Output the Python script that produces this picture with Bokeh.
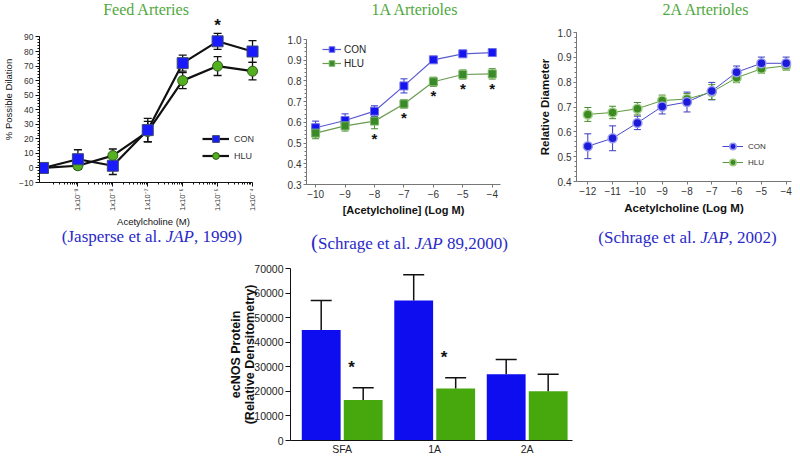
import numpy as np
from bokeh.plotting import figure
from bokeh.models import (ColumnDataSource, Whisker, TeeHead, Legend, LegendItem,
                          FixedTicker, Range1d, Spacer, NumeralTickFormatter, Div)
from bokeh.layouts import row, column
from bokeh.core.properties import value
from bokeh.embed import file_html
from bokeh.resources import INLINE

# ---------------- data ----------------
# Feed arteries (% possible dilation)
fa_x = [-10, -9, -8, -7, -6, -5, -4]
fa_con = [0, 6, 1.5, 26, 72, 87, 80]
fa_con_err = [0, 6.5, 6, 8, 5.5, 5.5, 7.5]
fa_hlu = [0, 1.5, 8.5, 25, 60, 70, 66.5]
fa_hlu_err = [0, 2.5, 4.5, 7, 5.5, 6.5, 6]
fa_ticks = [-9, -8, -7, -6, -5, -4]
fa_tick_text = ["1x10\u207b\u2079", "1x10\u207b\u2078", "1x10\u207b\u2077",
                "1x10\u207b\u2076", "1x10\u207b\u2075", "1x10\u207b\u2074"]
fa_sig = [-5]

# 1A arterioles (relative diameter)
a1_x = [-10, -9, -8, -7, -6, -5, -4]
a1_con = [0.574, 0.609, 0.654, 0.776, 0.902, 0.931, 0.937]
a1_con_err = [0.032, 0.032, 0.026, 0.034, 0.008, 0.008, 0.006]
a1_hlu = [0.548, 0.583, 0.606, 0.689, 0.796, 0.831, 0.834]
a1_hlu_err = [0.027, 0.025, 0.037, 0.020, 0.022, 0.022, 0.025]
a1_sig = [-8, -7, -6, -5, -4]

# 2A arterioles (relative diameter)
a2_x = [-12, -11, -10, -9, -8, -7, -6, -5, -4]
a2_con = [0.542, 0.574, 0.636, 0.702, 0.720, 0.764, 0.840, 0.876, 0.876]
a2_con_err = [0.050, 0.050, 0.027, 0.030, 0.040, 0.035, 0.025, 0.025, 0.025]
a2_hlu = [0.670, 0.678, 0.693, 0.726, 0.732, 0.760, 0.818, 0.854, 0.866]
a2_hlu_err = [0.028, 0.025, 0.025, 0.022, 0.022, 0.030, 0.020, 0.018, 0.018]

# ecNOS protein
bar_cats = ["SFA", "1A", "2A"]
bar_con = [45000, 57000, 27000]
bar_con_err = [12000, 10500, 6000]
bar_hlu = [16500, 21200, 20000]
bar_hlu_err = [5000, 4300, 7000]
bar_sig = ["SFA", "1A"]

# ---------------- styles ----------------
TITLE_GREEN = "#4fa83d"
CITE_BLUE = "#2a2ac8"
SANS = "Liberation Sans"
SERIF = "Liberation Serif"


def base_fig(w, h, xr, yr, l, r, t, b):
    p = figure(width=w, height=h, x_range=xr, y_range=yr, output_backend="svg",
               toolbar_location=None, min_border_left=l, min_border_right=r,
               min_border_top=t, min_border_bottom=b)
    p.grid.visible = False
    p.outline_line_color = None
    return p


def text_div(html, w, h, dx, size, color, lh=20):
    style = (f"position:relative;left:{dx}px;width:{w}px;text-align:center;"
             f"white-space:nowrap;font-family:'{SERIF}';font-size:{size}px;"
             f"line-height:{lh}px;color:{color};margin:0;padding:0")
    return Div(text=f'<div style="{style}">{html}</div>', width=w, height=h, margin=0)


def whiskers(p, xs, ys, errs, color, width, head):
    src = ColumnDataSource(dict(x=xs, lo=[a - e for a, e in zip(ys, errs)],
                                hi=[a + e for a, e in zip(ys, errs)]))
    w = Whisker(source=src, base="x", lower="lo", upper="hi", line_color=color,
                line_width=width,
                upper_head=TeeHead(size=head, line_color=color, line_width=width),
                lower_head=TeeHead(size=head, line_color=color, line_width=width))
    p.add_layout(w)


def style_axes(p, color, label_color, tick_size):
    for ax in (p.xaxis[0], p.yaxis[0]):
        ax.axis_line_color = color
        ax.major_tick_line_color = color
        ax.minor_tick_line_color = color
        ax.major_label_text_color = label_color
        ax.major_label_text_font = SANS
        ax.major_label_text_font_size = f"{tick_size}px"
        ax.axis_label_text_font = SANS
        ax.axis_label_text_color = "#111111"
        ax.major_tick_in = 0
        ax.minor_tick_in = 0


# ---------------- panel 1: feed arteries ----------------
x0, x1 = -10.1, -3.571
p1 = base_fig(270, 213, Range1d(x0, x1), Range1d(-10, 104.05), 37, 3, 0, 45)
style_axes(p1, "#111111", "#333333", 8.5)
p1.yaxis.ticker = FixedTicker(ticks=list(range(-10, 91, 10)),
                              minor_ticks=list(range(-10, 91, 2)))
p1.yaxis.bounds = (-10, 90)
p1.xaxis.bounds = (x0, -4)
minor_log = [d + float(np.log10(k)) for d in range(-10, -4) for k in range(2, 10)]
p1.xaxis.ticker = FixedTicker(ticks=fa_ticks, minor_ticks=minor_log)
p1.xaxis.major_label_overrides = {t: s for t, s in zip(fa_ticks, fa_tick_text)}
p1.xaxis.major_label_orientation = np.pi / 2
p1.xaxis.major_label_text_font_size = "7.5px"
for ax in (p1.xaxis[0], p1.yaxis[0]):
    ax.major_tick_out = 4
    ax.minor_tick_out = 2
    ax.major_label_standoff = 2
    ax.axis_label_standoff = 2
    ax.axis_label_text_font_size = "9.5px"
    ax.axis_label_text_font_style = "normal"
p1.yaxis.axis_label = "% Possible Dilation"
p1.xaxis.axis_label = "Acetylcholine (M)"

whiskers(p1, fa_x, fa_con, fa_con_err, "#111111", 1.3, 8)
whiskers(p1, fa_x, fa_hlu, fa_hlu_err, "#111111", 1.3, 8)
l1c = p1.line(fa_x, fa_con, line_color="#111111", line_width=2.2)
l1h = p1.line(fa_x, fa_hlu, line_color="#111111", line_width=2.2)
s1h = p1.scatter(fa_x, fa_hlu, marker="circle", size=10, fill_color="#55b020",
                 line_color="#2f5a1c", line_width=1)
s1c = p1.scatter(fa_x, fa_con, marker="square", size=11, fill_color="#1a1aff",
                 line_color="#3a4a70", line_width=1)
sy = [fa_con[fa_x.index(x)] + fa_con_err[fa_x.index(x)] + 5.5 for x in fa_sig]
p1.text(fa_sig, sy, text=value("*"), text_font=value(SANS), text_font_style="bold",
        text_font_size="17px", text_align="center", text_baseline="alphabetic",
        text_color="#111111")
leg1 = Legend(items=[LegendItem(label="CON", renderers=[l1c, s1c]),
                     LegendItem(label="HLU", renderers=[l1h, s1h])],
              location=(163, 18), border_line_color=None, background_fill_alpha=0,
              padding=0, margin=0, spacing=0, glyph_width=27, glyph_height=17,
              label_height=17, label_standoff=5, label_text_font=SANS,
              label_text_font_size="9px", label_text_color="#333333")
p1.add_layout(leg1)

# ---------------- panel 2: 1A arterioles ----------------
p2 = base_fig(265, 212, Range1d(-10.31, -3.72), Range1d(0.3, 1.0), 36, 35, 19, 48)
style_axes(p2, "#777777", "#333333", 10)
p2.xaxis.ticker = FixedTicker(ticks=a1_x)
p2.yaxis.ticker = FixedTicker(ticks=[round(v, 1) for v in np.arange(0.3, 1.01, 0.1)],
                              minor_ticks=[round(v, 2) for v in np.arange(0.3, 1.001, 0.02)])
p2.yaxis.formatter = NumeralTickFormatter(format="0.0")
for ax in (p2.xaxis[0], p2.yaxis[0]):
    ax.major_tick_out = 3
    ax.minor_tick_out = 2
    ax.major_label_standoff = 2
p2.xaxis.axis_label = "[Acetylcholine] (Log M)"
p2.xaxis.axis_label_text_font_size = "11px"
p2.xaxis.axis_label_text_font_style = "bold"
p2.xaxis.axis_label_standoff = 3

whiskers(p2, a1_x, a1_con, a1_con_err, "#3434d0", 1, 7)
whiskers(p2, a1_x, a1_hlu, a1_hlu_err, "#4a8a30", 1, 7)
l2c = p2.line(a1_x, a1_con, line_color="#5a5ad2", line_width=1.2)
l2h = p2.line(a1_x, a1_hlu, line_color="#6a9a50", line_width=1.2)
s2c = p2.scatter(a1_x, a1_con, marker="square", size=8, fill_color="#1414f0",
                 line_color="#7070e8", line_width=1)
s2h = p2.scatter(a1_x, a1_hlu, marker="square", size=8, fill_color="#3a8a2a",
                 line_color="#80b86a", line_width=1)
s2y = [a1_hlu[a1_x.index(x)] - a1_hlu_err[a1_x.index(x)] - 0.045 for x in a1_sig]
p2.text(a1_sig, s2y, text=value("*"), text_font=value(SANS), text_font_style="bold",
        text_font_size="15px", text_align="center", text_baseline="alphabetic",
        text_color="#111111")
leg2 = Legend(items=[LegendItem(label="CON", renderers=[l2c, s2c]),
                     LegendItem(label="HLU", renderers=[l2h, s2h])],
              location=(16, 114), border_line_color=None, background_fill_alpha=0,
              padding=0, margin=0, spacing=0, glyph_width=19, glyph_height=14,
              label_height=14, label_standoff=3, label_text_font=SANS,
              label_text_font_size="10px", label_text_color="#222222")
p2.add_layout(leg2)

# ---------------- panel 3: 2A arterioles ----------------
p3 = base_fig(265, 208, Range1d(-12.456, -3.786), Range1d(0.4, 1.0), 41, 9, 12, 47)
style_axes(p3, "#777777", "#333333", 10)
p3.xaxis.ticker = FixedTicker(ticks=a2_x)
p3.yaxis.ticker = FixedTicker(ticks=[round(v, 1) for v in np.arange(0.4, 1.01, 0.1)],
                              minor_ticks=[round(v, 2) for v in np.arange(0.4, 1.001, 0.02)])
p3.yaxis.formatter = NumeralTickFormatter(format="0.0")
for ax in (p3.xaxis[0], p3.yaxis[0]):
    ax.major_tick_out = 3
    ax.minor_tick_out = 2
    ax.major_label_standoff = 2
    ax.axis_label_text_font_size = "11.5px"
    ax.axis_label_text_font_style = "bold"
    ax.axis_label_standoff = 4
p3.xaxis.axis_label = "Acetylcholine (Log M)"
p3.yaxis.axis_label = "Relative Diameter"

whiskers(p3, a2_x, a2_con, a2_con_err, "#3a3ac0", 1, 7)
whiskers(p3, a2_x, a2_hlu, a2_hlu_err, "#4a8a30", 1, 7)
l3c = p3.line(a2_x, a2_con, line_color="#4848c8", line_width=1)
l3h = p3.line(a2_x, a2_hlu, line_color="#5a9a3c", line_width=1)
s3h = p3.scatter(a2_x, a2_hlu, marker="circle", size=9, fill_color="#3c8a22",
                 line_color="#a0cc88", line_width=1.5)
s3c = p3.scatter(a2_x, a2_con, marker="circle", size=9, fill_color="#1a1ad8",
                 line_color="#9a9aee", line_width=1.5)
leg3 = Legend(items=[LegendItem(label="CON", renderers=[l3c, s3c]),
                     LegendItem(label="HLU", renderers=[l3h, s3h])],
              location=(146, 11), border_line_color=None, background_fill_alpha=0,
              padding=0, margin=0, spacing=0, glyph_width=21, glyph_height=16,
              label_height=16, label_standoff=5, label_text_font=SANS,
              label_text_font_size="8px", label_text_color="#333333")
p3.add_layout(leg3)

# ---------------- titles and citations ----------------
t1 = text_div("Feed Arteries", 270, 16, 11, 16, TITLE_GREEN)
t2 = text_div("1A Arterioles", 265, 20, 12, 16, TITLE_GREEN)
t3 = text_div("2A Arterioles", 265, 20, 38, 16, TITLE_GREEN)
c1 = text_div("(Jasperse et al. <i>JAP</i>, 1999)", 270, 23, 17, 17, CITE_BLUE, lh=16)
c2 = text_div('<span style="font-size:21px">(</span>Schrage et al. <i>JAP</i> 89,2000)',
              265, 20, 7, 17, CITE_BLUE)
c3 = text_div("(Schrage et al. <i>JAP</i>, 2002)", 265, 24, 20, 17, CITE_BLUE)

# ---------------- panel 4: ecNOS protein bars ----------------
bx = [i + 0.5 for i in range(len(bar_cats))]
p4 = base_fig(352, 205, Range1d(-0.059, 2.99), Range1d(0, 70000), 68, 2, 16, 16)
style_axes(p4, "#111111", "#222222", 10.5)
p4.xaxis.ticker = FixedTicker(ticks=bx)
p4.xaxis.major_label_overrides = {x: c for x, c in zip(bx, bar_cats)}
p4.xaxis.major_tick_line_color = None
p4.xaxis.minor_tick_line_color = None
p4.xaxis.major_tick_out = 0
p4.xaxis.minor_tick_out = 0
p4.xaxis.major_label_standoff = 2
p4.yaxis.ticker = FixedTicker(ticks=list(range(0, 70001, 10000)))
p4.yaxis.formatter = NumeralTickFormatter(format="0")
p4.yaxis.minor_tick_line_color = None
p4.yaxis.major_tick_out = 5
p4.yaxis.major_label_standoff = 2
p4.yaxis.axis_label = "ecNOS Protein\n(Relative Densitometry)"
p4.yaxis.axis_label_text_font_size = "12.5px"
p4.yaxis.axis_label_text_font_style = "bold"
p4.yaxis.axis_label_text_line_height = 1.0
p4.yaxis.axis_label_text_color = "#111111"
p4.yaxis.axis_label_standoff = -6

off, bw = 0.227, 0.42
xc = [x - off for x in bx]
xh = [x + off for x in bx]
p4.vbar(x=xc, top=bar_con, width=bw, fill_color="#0d0df0", line_color=None)
p4.vbar(x=xh, top=bar_hlu, width=bw, fill_color="#46a80c", line_color=None)
for xs, ys, es in ((xc, bar_con, bar_con_err), (xh, bar_hlu, bar_hlu_err)):
    src = ColumnDataSource(dict(x=xs, lo=ys, hi=[a + e for a, e in zip(ys, es)]))
    p4.add_layout(Whisker(source=src, base="x", lower="lo", upper="hi",
                          line_color="#111111", line_width=1.5, level="overlay",
                          upper_head=TeeHead(size=21, line_color="#111111", line_width=1.5),
                          lower_head=None))
b4x = [bx[bar_cats.index(c)] + 0.1 for c in bar_sig]
b4y = [bar_hlu[bar_cats.index(c)] + bar_hlu_err[bar_cats.index(c)] + 8300 for c in bar_sig]
p4.text(b4x, b4y, text=value("*"), text_font=value(SANS), text_font_style="bold",
        text_font_size="17px", text_align="center", text_baseline="alphabetic",
        text_color="#111111")

top = row(column(t1, p1, c1), column(t2, p2, c2), column(t3, p3, c3))
layout = column(top, row(Spacer(width=222, height=205, margin=0), p4))
open("out.html", "w").write(file_html(layout, INLINE))
